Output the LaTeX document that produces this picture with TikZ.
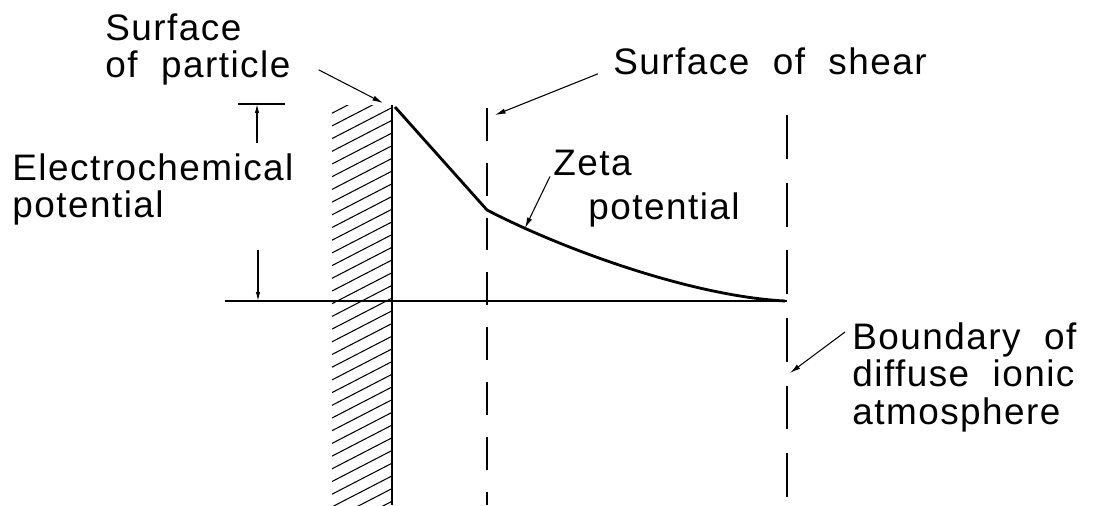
\documentclass[tikz,border=0pt]{standalone}
\usepackage{fontspec}
\setmainfont{Liberation Sans}[LetterSpace=4,WordSpace=2]
\usetikzlibrary{arrows.meta}
\begin{document}
\begin{tikzpicture}[x=0.02cm,y=0.02cm,
  lbl/.style={inner sep=0pt, align=left, anchor=north west, font=\fontsize{21}{21.5}\selectfont},
  lead/.style={line width=0.6pt, -{Latex[length=6pt,width=3pt]}},
  dimarrow/.style={line width=0.7pt, -{Latex[length=5pt,width=2.5pt]}}]
\useasboundingbox (0,0) rectangle (1113,505);
\begin{scope}
\clip (332,0) rectangle (392,400);
\foreach \y in {-40,-27.3,...,410} \draw[line width=0.6pt] (332,\y) -- (392,\y+31);
\end{scope}
\draw[line width=1.7pt] (392,400) -- (392,0);
\draw[line width=1.1pt] (225,204) -- (787,204);
\draw[line width=1.7pt, dash pattern=on 18.7pt off 12.5pt] (487,397) -- (487,0);
\draw[line width=0.9pt, dash pattern=on 25pt off 13.5pt] (787,390) -- (787,0);
\coordinate (ptop) at (395,398);
\coordinate (kink) at (487,295);
\coordinate (tail) at (785,204);
\draw[line width=1.6pt, line join=round] (ptop) -- (kink) .. controls (560,257) and (690,209) .. (tail);
\draw[line width=0.7pt] (238,401) -- (285,401);
\draw[dimarrow] (257,362) -- (257,401);
\draw[dimarrow] (258,255) -- (258,204);
\node[lbl] (partlbl) at (105,492) {Surface\\of particle};
\node[lbl] (echlbl) at (12,352) {Electrochemical\\potential};
\node[lbl] (shearlbl) at (613,458) {Surface of shear};
\node[lbl] (zetalbl) at (553,355) {Zeta};
\node[lbl] (zetapot) at (588,313) {potential};
\node[lbl] (bndlbl) at (852,183) {Boundary of\\diffuse ionic\\atmosphere};
\coordinate (partmark) at (383,402);
\coordinate (shearmark) at (495,390);
\coordinate (zetamark) at (525,277);
\coordinate (bndmark) at (790,132);
\draw[lead] ([shift={(28,16)}]partlbl.south east) -- (partmark);
\draw[lead] ([shift={(-15,1)}]shearlbl.south west) -- (shearmark);
\draw[lead] ([shift={(-3,0)}]zetalbl.south west) -- (zetamark);
\draw[lead] ([shift={(-7,-10)}]bndlbl.north west) -- (bndmark);
\end{tikzpicture}
\end{document}
